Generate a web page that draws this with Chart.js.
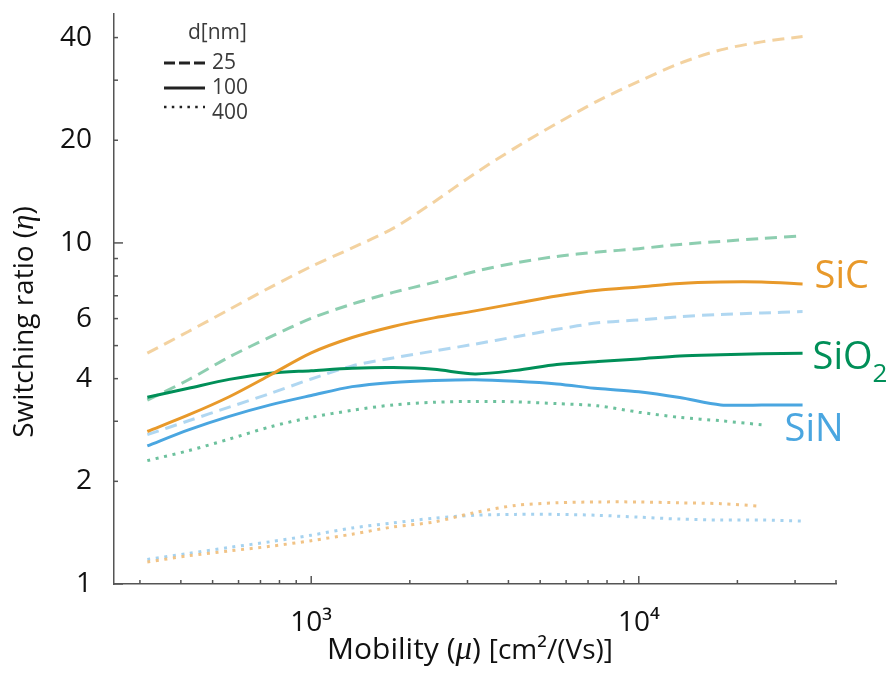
<!DOCTYPE html>
<html>
<head>
<meta charset="utf-8">
<script src="https://cdn.jsdelivr.net/npm/chart.js@4.4.1/dist/chart.umd.min.js"></script>
<style>
  html, body { margin: 0; padding: 0; background: #fff; }
</style>
</head>
<body>
<canvas id="chart" width="888" height="678"></canvas>
<script>
// mobility samples, cm2/(Vs)
var mobility = [316, 422, 562, 750, 1000, 1334, 1778, 2371, 3162, 4217, 5623, 7499, 10000, 13335, 17783, 23714, 31623];

// switching ratio, d = 25 nm
var sic25  = [4.75, 5.50, 6.38, 7.41, 8.53, 9.67, 11.03, 13.19, 15.99, 19.06, 22.41, 26.09, 29.76, 33.61, 36.81, 38.86, 40.27];
var sio225 = [3.46, 3.97, 4.63, 5.30, 6.01, 6.62, 7.16, 7.66, 8.25, 8.74, 9.13, 9.40, 9.62, 9.90, 10.10, 10.31, 10.48];
var sin25  = [2.74, 3.01, 3.30, 3.62, 3.99, 4.36, 4.60, 4.82, 5.05, 5.31, 5.58, 5.83, 5.94, 6.08, 6.17, 6.23, 6.29];

// d = 100 nm
var sic100  = [2.80, 3.13, 3.54, 4.10, 4.76, 5.28, 5.69, 6.03, 6.32, 6.65, 6.99, 7.26, 7.43, 7.61, 7.68, 7.68, 7.58];
var sio2100 = [3.53, 3.75, 3.98, 4.15, 4.22, 4.29, 4.31, 4.26, 4.13, 4.23, 4.40, 4.49, 4.57, 4.66, 4.70, 4.73, 4.75];
var sin100  = [2.54, 2.83, 3.10, 3.35, 3.57, 3.79, 3.90, 3.95, 3.97, 3.93, 3.86, 3.74, 3.66, 3.52, 3.35, 3.35, 3.35];

// d = 400 nm
var sic400  = [1.16, 1.21, 1.25, 1.29, 1.34, 1.40, 1.47, 1.52, 1.62, 1.70, 1.73, 1.74, 1.74, 1.73, 1.72, 1.69, null];
var sio2400 = [2.30, 2.46, 2.66, 2.89, 3.08, 3.23, 3.35, 3.41, 3.43, 3.42, 3.38, 3.33, 3.19, 3.08, 3.01, 2.93, null];
var sin400  = [1.18, 1.23, 1.28, 1.33, 1.39, 1.46, 1.51, 1.56, 1.59, 1.60, 1.60, 1.59, 1.57, 1.55, 1.54, 1.54, 1.53];

var xTicks = [300, 400, 500, 600, 700, 800, 900, 1000, 2000, 3000, 4000, 5000, 6000, 7000, 8000, 9000, 10000, 20000, 30000, 40000];
var xLabels = ['', '', '', '', '', '', '', '10³', '', '', '', '', '', '', '', '', '10⁴', '', '', ''];
var yTicks = [1, 2, 3, 4, 5, 6, 7, 8, 9, 10, 20, 30, 40];
var yLabels = ['1', '2', '', '4', '', '6', '', '', '', '10', '20', '', '40'];
var yMax = 46.9;

var orange = '#E8992A', green = '#008F58', blue = '#4AA6E0';
var axisColor = '#555555';
var sansFont = "'Open Sans', 'Noto Sans', sans-serif";
var mathFont = "'Liberation Serif', 'DejaVu Serif', serif";

function pts(ys) {
  return mobility.map(function (m, i) { return { x: m, y: ys[i] }; });
}

function line(name, ys, color, dash) {
  return {
    label: name,
    data: pts(ys),
    borderColor: color,
    borderWidth: 3,
    borderDash: dash,
    borderCapStyle: 'butt',
    pointRadius: 0,
    tension: 0.3,
    spanGaps: false
  };
}

var dashed = [12, 7];
var dotted = [3, 5.6];

var decor = {
  id: 'decor',
  afterDraw: function (chart) {
    var ctx = chart.ctx, xs = chart.scales.x, ys = chart.scales.y, area = chart.chartArea;
    ctx.save();

    // inward tick marks
    ctx.strokeStyle = axisColor;
    ctx.lineWidth = 1.5;
    xs.ticks.forEach(function (t) {
      var px = xs.getPixelForValue(t.value);
      var len = (t.value === 1000 || t.value === 10000) ? 8 : 4;
      ctx.beginPath(); ctx.moveTo(px, area.bottom); ctx.lineTo(px, area.bottom - len); ctx.stroke();
    });
    ys.ticks.forEach(function (t) {
      if (t.value > 40) return;
      var py = ys.getPixelForValue(t.value);
      var len = (t.value === 1 || t.value === 10) ? 9 : 4;
      ctx.beginPath(); ctx.moveTo(area.left, py); ctx.lineTo(area.left + len, py); ctx.stroke();
    });

    // legend for the thickness
    ctx.fillStyle = '#3a3a3a';
    ctx.textBaseline = 'middle';
    ctx.textAlign = 'left';
    ctx.font = '21px ' + sansFont;
    ctx.fillText('d[nm]', 188, 33);
    var rows = [['25', [11, 4], 63], ['100', [], 88], ['400', [2.5, 5.3], 107]];
    rows.forEach(function (r) {
      ctx.strokeStyle = '#222';
      ctx.lineWidth = r[0] === '400' ? 2.5 : 3;
      ctx.setLineDash(r[1]);
      ctx.beginPath(); ctx.moveTo(164, r[2]); ctx.lineTo(205, r[2]); ctx.stroke();
      ctx.setLineDash([]);
      ctx.font = '21px ' + sansFont;
      ctx.fillText(r[0], 212, r[0] === '400' ? 113 : r[2]);
    });

    // material labels beside the line ends
    var xEnd = xs.getPixelForValue(mobility[mobility.length - 1]);
    ctx.font = '38px ' + sansFont;
    ctx.fillStyle = orange;
    ctx.fillText('SiC', xEnd + 12, ys.getPixelForValue(sic100[16]) - 7);
    ctx.fillStyle = green;
    var sx = xEnd + 10, sy = ys.getPixelForValue(sio2100[16]) + 5;
    ctx.fillText('SiO', sx, sy);
    var w = ctx.measureText('SiO').width;
    ctx.font = '26px ' + sansFont;
    ctx.fillText('2', sx + w, sy + 16);
    ctx.font = '38px ' + sansFont;
    ctx.fillStyle = blue;
    ctx.fillText('SiN', xEnd - 18, ys.getPixelForValue(sin100[16]) + 25);

    // axis titles
    ctx.fillStyle = '#111';
    ctx.textBaseline = 'alphabetic';
    drawParts(ctx, [
      { text: 'Mobility (', font: '30px ' + sansFont },
      { text: 'μ', font: 'italic 33px ' + mathFont },
      { text: ') ', font: '30px ' + sansFont },
      { text: '[cm²/(Vs)]', font: '28px ' + sansFont }
    ], 470, 659);

    ctx.translate(0, 322);
    ctx.rotate(-Math.PI / 2);
    drawParts(ctx, [
      { text: 'Switching ratio (', font: '28px ' + sansFont },
      { text: 'η', font: 'italic 31px ' + mathFont },
      { text: ')', font: '28px ' + sansFont }
    ], 0, 33);

    ctx.restore();
  }
};

function drawParts(ctx, parts, cx, y) {
  var total = 0;
  parts.forEach(function (p) { ctx.font = p.font; p.w = ctx.measureText(p.text).width; total += p.w; });
  var x = cx - total / 2;
  ctx.textAlign = 'left';
  parts.forEach(function (p) { ctx.font = p.font; ctx.fillText(p.text, x, y); x += p.w; });
}

new Chart('chart', {
  type: 'line',
  data: {
    datasets: [
      line('SiC 100 nm', sic100, orange, []),
      line('SiO2 100 nm', sio2100, green, []),
      line('SiN 100 nm', sin100, blue, []),
      line('SiC 25 nm', sic25, 'rgba(242, 205, 150, 0.9)', dashed),
      line('SiO2 25 nm', sio225, 'rgba(135, 203, 172, 0.95)', dashed),
      line('SiN 25 nm', sin25, 'rgba(172, 213, 240, 0.95)', dashed),
      line('SiC 400 nm', sic400, 'rgba(240, 192, 128, 0.95)', dotted),
      line('SiO2 400 nm', sio2400, 'rgba(100, 190, 152, 0.95)', dotted),
      line('SiN 400 nm', sin400, 'rgba(160, 208, 238, 0.95)', dotted)
    ]
  },
  options: {
    responsive: false,
    animation: false,
    layout: { padding: { top: 10, right: 52, left: 0, bottom: 0 } },
    plugins: { legend: { display: false }, tooltip: { enabled: false } },
    scales: {
      x: {
        type: 'logarithmic',
        min: 250,
        max: 40000,
        afterBuildTicks: function (scale) {
          scale.ticks = xTicks.map(function (v) { return { value: v }; });
        },
        afterFit: function (scale) { scale.height = 94; },
        grid: { display: false },
        border: { display: true, color: axisColor, width: 1.5 },
        ticks: {
          autoSkip: false,
          maxRotation: 0,
          padding: 14,
          color: '#111',
          font: { family: sansFont, size: 28 },
          callback: function (v, i) { return xLabels[i]; }
        }
      },
      y: {
        type: 'logarithmic',
        min: 1,
        max: yMax,
        afterBuildTicks: function (scale) {
          scale.ticks = yTicks.concat([yMax]).map(function (v) { return { value: v }; });
        },
        afterFit: function (scale) { scale.width = 114; },
        grid: { display: false },
        border: { display: true, color: axisColor, width: 1.5 },
        ticks: {
          autoSkip: false,
          padding: 14,
          color: '#111',
          font: function (c) {
            if (c.tick && c.tick.value > 40) return { size: 1, lineHeight: 0 };
            return { family: sansFont, size: 28 };
          },
          callback: function (v, i) { return i < yLabels.length ? yLabels[i] : ''; }
        }
      }
    }
  },
  plugins: [decor]
});
</script>
</body>
</html>
